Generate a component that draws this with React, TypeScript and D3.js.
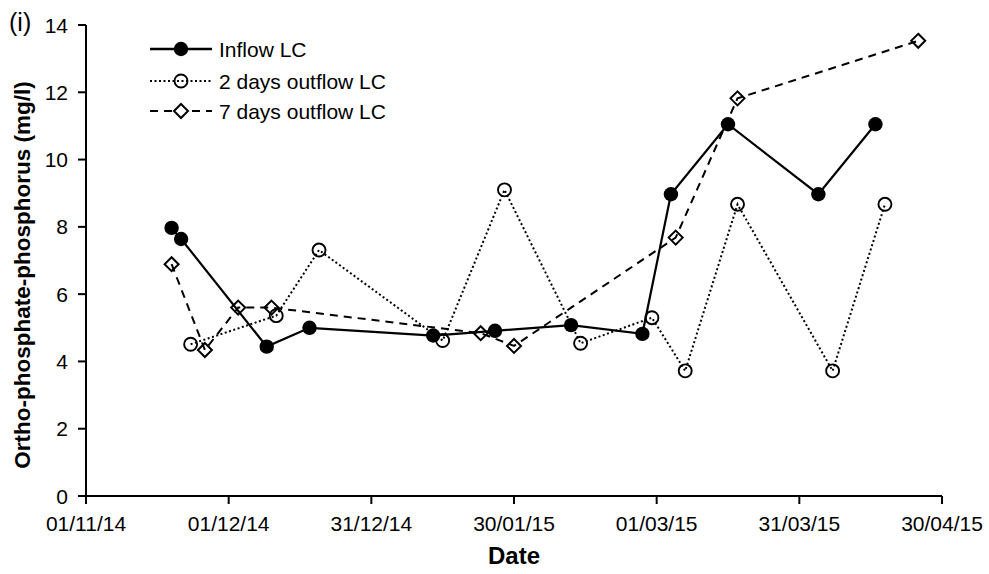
import React from "react";
import * as d3 from "d3";

const inflowDates = ["2014-11-19","2014-11-21","2014-12-09","2014-12-18","2015-01-13","2015-01-26","2015-02-11","2015-02-26","2015-03-04","2015-03-16","2015-04-04","2015-04-16"];
const inflowValues = [7.97,7.64,4.44,5.0,4.77,4.91,5.08,4.82,8.97,11.05,8.97,11.05];

const out2Dates = ["2014-11-23","2014-12-11","2014-12-20","2015-01-15","2015-01-28","2015-02-13","2015-02-28","2015-03-07","2015-03-18","2015-04-07","2015-04-18"];
const out2Values = [4.51,5.36,7.31,4.62,9.1,4.54,5.3,3.72,8.67,3.72,8.67];

const out7Dates = ["2014-11-19","2014-11-26","2014-12-03","2014-12-10","2015-01-23","2015-01-30","2015-03-05","2015-03-18","2015-04-25"];
const out7Values = [6.89,4.34,5.6,5.6,4.84,4.46,7.68,11.82,13.53];

const xTickDates = ["2014-11-01","2014-12-01","2014-12-31","2015-01-30","2015-03-01","2015-03-31","2015-04-30"];
const yTicks = [0,2,4,6,8,10,12,14];
const legendLabels = ["Inflow LC","2 days outflow LC","7 days outflow LC"];

const parse = (s: string) => { const [y,m,d] = s.split("-").map(Number); return new Date(Date.UTC(y, m-1, d)); };
const fmt = (dt: Date) => d3.utcFormat("%d/%m/%y")(dt);

const W = 989, H = 574;
const FONT = "'Liberation Sans', Arial, sans-serif";

export default function App() {
  const x = d3.scaleUtc().domain([parse("2014-11-01"), parse("2015-04-30")]).range([86, 942]);
  const y = d3.scaleLinear().domain([0, 14]).range([496, 25]);
  const line = d3.line<[Date, number]>().x(d => x(d[0])).y(d => y(d[1]));

  const inflow: [Date, number][] = inflowDates.map((d, i) => [parse(d), inflowValues[i]]);
  const out2: [Date, number][] = out2Dates.map((d, i) => [parse(d), out2Values[i]]);
  const out7: [Date, number][] = out7Dates.map((d, i) => [parse(d), out7Values[i]]);

  const diamond = (cx: number, cy: number, r: number) => `M${cx},${cy-r}L${cx+r},${cy}L${cx},${cy+r}L${cx-r},${cy}Z`;

  const legendY = [49, 81, 111];
  const lx1 = 150, lx2 = 212, lmx = 181, ltx = 219;
  const dotted = "2,2.5";
  const dashed = "8,6";

  return (
    <svg width={W} height={H} style={{ position: "absolute", left: 0, top: 0, background: "#fff" }} fontFamily={FONT}>
      <rect x={0} y={0} width={W} height={H} fill="#fff" />
      {/* axes */}
      <line x1={86} x2={86} y1={y(14)} y2={y(0)} stroke="#000" strokeWidth={2} />
      <line x1={86} x2={942} y1={y(0)} y2={y(0)} stroke="#000" strokeWidth={2} />
      {yTicks.map(t => (
        <g key={t}>
          <line x1={78} x2={86} y1={y(t)} y2={y(t)} stroke="#000" strokeWidth={2} />
          <text x={68} y={y(t)} dy="0.36em" textAnchor="end" fontSize={21} fill="#000">{t}</text>
        </g>
      ))}
      {xTickDates.map(s => {
        const d = parse(s);
        return (
          <g key={s}>
            <line x1={x(d)} x2={x(d)} y1={y(0)} y2={y(0) + 8} stroke="#000" strokeWidth={2} />
            <text x={x(d)} y={531} textAnchor="middle" fontSize={21} fill="#000">{fmt(d)}</text>
          </g>
        );
      })}
      <text x={514} y={564} textAnchor="middle" fontSize={24} fontWeight="bold" fill="#000">Date</text>
      <text transform={`translate(30,275) rotate(-90)`} textAnchor="middle" fontSize={22.5} fontWeight="bold" fill="#000">Ortho-phosphate-phosphorus (mg/l)</text>
      <text x={9} y={31} fontSize={25} fill="#000">(i)</text>

      {/* series lines */}
      <path d={line(out2) ?? ""} fill="none" stroke="#000" strokeWidth={2} strokeDasharray={dotted} />
      <path d={line(out7) ?? ""} fill="none" stroke="#000" strokeWidth={2} strokeDasharray={dashed} />
      <path d={line(inflow) ?? ""} fill="none" stroke="#000" strokeWidth={2.2} />

      {/* markers */}
      {out2.map((p, i) => (
        <circle key={"o" + i} cx={x(p[0])} cy={y(p[1])} r={6.5} fill="none" stroke="#000" strokeWidth={1.9} />
      ))}
      {out7.map((p, i) => (
        <path key={"d" + i} d={diamond(x(p[0]), y(p[1]), 7)} fill="none" stroke="#000" strokeWidth={2} />
      ))}
      {inflow.map((p, i) => (
        <circle key={"i" + i} cx={x(p[0])} cy={y(p[1])} r={7.2} fill="#000" />
      ))}

      {/* legend */}
      <g>
        <line x1={lx1} x2={lx2} y1={legendY[0]} y2={legendY[0]} stroke="#000" strokeWidth={2.4} />
        <circle cx={lmx} cy={legendY[0]} r={7.2} fill="#000" />
        <text x={ltx} y={legendY[0]} dy="0.36em" fontSize={21} fill="#000">{legendLabels[0]}</text>

        <line x1={lx1} x2={lx2} y1={legendY[1]} y2={legendY[1]} stroke="#000" strokeWidth={2} strokeDasharray={dotted} />
        <circle cx={lmx} cy={legendY[1]} r={6.5} fill="none" stroke="#000" strokeWidth={1.9} />
        <text x={ltx} y={legendY[1]} dy="0.36em" fontSize={21} fill="#000">{legendLabels[1]}</text>

        <line x1={lx1} x2={lx2} y1={legendY[2]} y2={legendY[2]} stroke="#000" strokeWidth={2} strokeDasharray={dashed} />
        <path d={diamond(lmx, legendY[2], 7)} fill="#fff" stroke="#000" strokeWidth={2} />
        <text x={ltx} y={legendY[2]} dy="0.36em" fontSize={21} fill="#000">{legendLabels[2]}</text>
      </g>
    </svg>
  );
}
